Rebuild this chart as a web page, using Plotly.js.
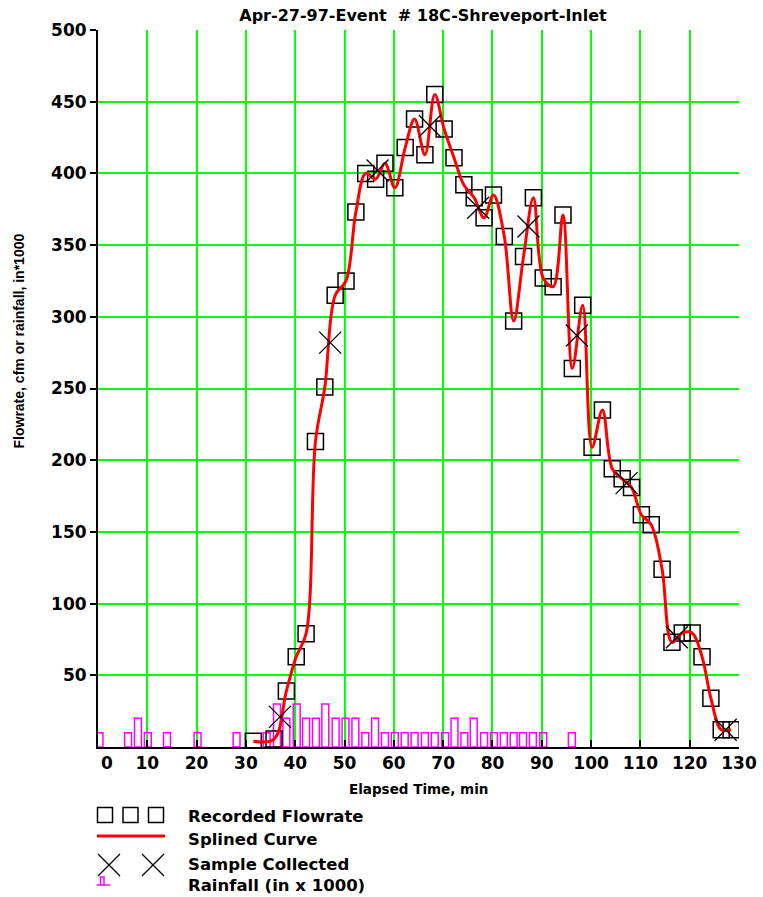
<!DOCTYPE html>
<html><head><meta charset="utf-8">
<script src="https://cdn.plot.ly/plotly-3.0.1.min.js"></script>
<style>html,body{margin:0;padding:0;background:#fff}#chart{width:763px;height:897px}</style>
</head><body><div id="chart"></div>
<script>
// ---- data ----
const flowTime = [31.5, 35.7, 38.2, 40.2, 42.2, 44.1, 46.0, 48.1, 50.3, 52.3, 54.3, 56.3, 58.2, 60.2, 62.3, 64.2, 66.3, 68.3, 70.2, 72.2, 74.2, 76.3, 78.3, 80.2, 82.4, 84.3, 86.3, 88.3, 90.3, 92.3, 94.3, 96.2, 98.3, 100.2, 102.3, 104.3, 106.3, 108.2, 110.2, 112.2, 114.4, 116.4, 118.5, 120.5, 122.5, 124.3, 126.4, 128.4];
const flowRate = [4, 5.5, 39, 63, 79, 213, 251, 315, 325, 373, 400, 396, 407, 390, 418, 438, 413, 455, 431, 411, 392, 383, 369, 385, 356, 297, 342, 383, 327, 321, 371, 264, 308, 209, 235, 194, 187, 181, 162, 155, 124, 73, 79.5, 79.5, 63, 34, 12, 12];
const sampleTime = [36.9, 47.1, 56.7, 67.3, 77.1, 87.3, 97.1, 107.2, 117.4, 127.3];
const sampleFlow = [21, 282, 402, 433, 376, 363, 287, 184, 76.5, 12];
const rainTime = [0.3, 6.1, 8.1, 10.1, 14.0, 20.2, 28.1, 34.2, 36.3, 38.2, 40.3, 42.2, 44.2, 46.1, 48.2, 50.2, 52.2, 54.2, 56.2, 58.2, 60.2, 62.2, 64.2, 66.3, 68.3, 70.4, 72.3, 74.3, 76.2, 78.3, 80.3, 82.3, 84.3, 86.2, 88.2, 90.3, 96.1];
const rainValue = [10, 10, 20, 10, 10, 10, 10, 10, 30, 20, 30, 20, 20, 30, 20, 20, 20, 10, 20, 10, 10, 10, 10, 10, 10, 10, 20, 10, 20, 10, 10, 10, 10, 10, 10, 10, 10];
const xTickVals = [0, 10, 20, 30, 40, 50, 60, 70, 80, 90, 100, 110, 120, 130];
const xTickText = ['\u00a0\u00a0\u00a00', '10', '20', '30', '40', '50', '60', '70', '80', '90', '100', '110', '120', '130'];
const yTickVals = [50, 100, 150, 200, 250, 300, 350, 400, 450, 500];
const titleText = 'Apr-27-97-Event\u00a0 # 18C-Shreveport-Inlet';
const legendLabels = ['Recorded Flowrate', 'Splined Curve', 'Sample Collected', 'Rainfall (in x 1000)'];

// ---- layout geometry ----
const W = 763, H = 897, L = 98, R = 24, T = 30, B = 150;
const PW = W - L - R, PH = H - T - B;
const px = x => (x - L) / PW;
const py = y => (H - B - y) / PH;
const FONT = 'DejaVu Sans';
const bold = (size, fam) => ({family: fam || FONT, size: size, color: '#000', weight: 'bold'});

const traces = [
  {type: 'bar', x: rainTime, y: rainValue, width: 1.4,
   marker: {color: 'rgba(0,0,0,0)', line: {color: '#ff00ff', width: 1.5}}, hoverinfo: 'skip'},
  {type: 'scatter', mode: 'markers', x: flowTime, y: flowRate,
   marker: {symbol: 'square-open', size: 16, color: '#000', line: {width: 1.5, color: '#000'}}},
  {type: 'scatter', mode: 'lines', x: flowTime, y: flowRate,
   line: {color: '#ff0000', width: 3, shape: 'spline', smoothing: 1}},
  {type: 'scatter', mode: 'markers', x: sampleTime, y: sampleFlow,
   marker: {symbol: 'x-thin-open', size: 22, color: '#000', line: {width: 1.3, color: '#000'}}}
];

const shapes = [];
const black = {color: '#000', width: 1.5};
// legend squares
[105, 130.5, 156].forEach(cx => shapes.push({type: 'rect', xref: 'paper', yref: 'paper',
  x0: px(cx - 7.5), x1: px(cx + 7.5), y0: py(815 - 7.5), y1: py(815 + 7.5), line: black}));
// legend red line
shapes.push({type: 'line', xref: 'paper', yref: 'paper', x0: px(97), x1: px(165), y0: py(836), y1: py(836),
  line: {color: '#ff0000', width: 3}});
// legend X marks
[109, 153].forEach(cx => {
  shapes.push({type: 'line', xref: 'paper', yref: 'paper', x0: px(cx - 11), x1: px(cx + 11), y0: py(854), y1: py(876), line: {color: '#000', width: 1.3}});
  shapes.push({type: 'line', xref: 'paper', yref: 'paper', x0: px(cx - 11), x1: px(cx + 11), y0: py(876), y1: py(854), line: {color: '#000', width: 1.3}});
});
// legend rainfall pulse
shapes.push({type: 'path', xref: 'paper', yref: 'paper',
  path: `M${px(97)},${py(885)} L${px(110)},${py(885)} M${px(100.5)},${py(885)} L${px(100.5)},${py(877)} L${px(104)},${py(877)} L${px(104)},${py(885)}`,
  line: {color: '#ff00ff', width: 1.5}});

const ann = (text, x, y, opts) => Object.assign({text: text, xref: 'paper', yref: 'paper', x: px(x), y: py(y),
  showarrow: false, xanchor: 'left', yanchor: 'middle', font: bold(16.5)}, opts || {});
const annotations = [
  ann(legendLabels[0], 186, 816),
  ann(legendLabels[1], 186, 839),
  ann(legendLabels[2], 186, 864),
  ann(legendLabels[3], 186, 885),
  ann('Elapsed Time, min', 418.5, 789, {xanchor: 'center', font: bold(13.5)}),
  ann('Flowrate, cfm or rainfall, in*1000', 18, 341.5, {xanchor: 'center', textangle: -90, font: bold(14, 'Liberation Sans')})
];

const layout = {
  width: W, height: H,
  margin: {l: L, r: R, t: T, b: B, pad: 0},
  paper_bgcolor: '#fff', plot_bgcolor: '#fff',
  showlegend: false,
  bargap: 0,
  title: {text: titleText, font: bold(16), xref: 'paper', x: px(423), xanchor: 'center',
          yref: 'container', y: 1 - 15 / H, yanchor: 'middle'},
  xaxis: {range: [0, 130], tickmode: 'array', tickvals: xTickVals, ticktext: xTickText,
          ticks: 'inside', ticklen: 7, tickwidth: 2, tickcolor: '#000',
          showline: true, linecolor: '#000', linewidth: 2,
          showgrid: true, gridcolor: '#00ff00', gridwidth: 2, zeroline: false,
          tickfont: bold(17), fixedrange: true},
  yaxis: {range: [0, 500], tickmode: 'array', tickvals: yTickVals,
          ticks: 'outside', ticklen: 6, tickwidth: 2, tickcolor: '#000',
          showline: true, linecolor: '#000', linewidth: 2,
          showgrid: true, gridcolor: '#00ff00', gridwidth: 2, zeroline: false,
          tickfont: bold(17), fixedrange: true},
  shapes: shapes,
  annotations: annotations
};

Plotly.newPlot('chart', traces, layout, {displayModeBar: false, staticPlot: true});
</script>
</body></html>
